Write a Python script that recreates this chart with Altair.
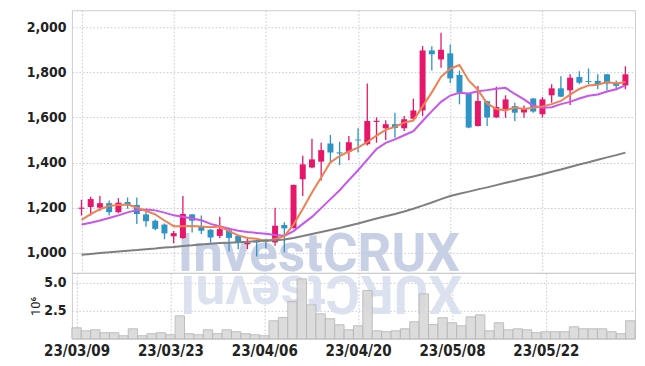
import altair as alt
import pandas as pd

dates = ["23/03/09", "23/03/10", "23/03/13", "23/03/14", "23/03/15", "23/03/16", "23/03/17",
         "23/03/20", "23/03/21", "23/03/22", "23/03/23", "23/03/24", "23/03/27", "23/03/28",
         "23/03/29", "23/03/30", "23/03/31", "23/04/03", "23/04/04", "23/04/05", "23/04/06",
         "23/04/07", "23/04/10", "23/04/11", "23/04/12", "23/04/13", "23/04/14", "23/04/17",
         "23/04/18", "23/04/19", "23/04/20", "23/04/21", "23/04/24", "23/04/25", "23/04/26",
         "23/04/27", "23/04/28", "23/05/02", "23/05/03", "23/05/04", "23/05/08", "23/05/09",
         "23/05/10", "23/05/11", "23/05/12", "23/05/15", "23/05/16", "23/05/17", "23/05/18",
         "23/05/19", "23/05/22", "23/05/23", "23/05/24", "23/05/25", "23/05/26", "23/05/30",
         "23/05/31", "23/06/01", "23/06/02", "23/06/05"]

opens = [1195, 1203, 1200, 1220, 1180, 1225, 1212, 1170, 1142, 1125,
         1073, 1065, 1170, 1115, 1102, 1075, 1100, 1075, 1038, 1055,
         1058, 1046, 1123, 1109, 1326, 1378, 1404, 1484, 1445, 1448,
         1502, 1481, 1580, 1552, 1570, 1552, 1594, 1631, 1897, 1857,
         1884, 1788, 1705, 1562, 1672, 1600, 1636, 1650, 1622, 1684,
         1614, 1698, 1729, 1720, 1779, 1761, 1762, 1791, 1754, 1742]
highs = [1235, 1248, 1252, 1232, 1242, 1245, 1245, 1182, 1148, 1130,
         1097, 1252, 1172, 1165, 1105, 1160, 1112, 1080, 1063, 1057,
         1060, 1200, 1135, 1302, 1430, 1506, 1488, 1522, 1492, 1518,
         1552, 1750, 1600, 1588, 1621, 1606, 1683, 1916, 1916, 1975,
         1923, 1808, 1706, 1739, 1674, 1736, 1698, 1665, 1653, 1685,
         1690, 1747, 1783, 1791, 1805, 1817, 1791, 1792, 1764, 1827]
lows = [1165, 1165, 1186, 1165, 1175, 1195, 1128, 1115, 1100, 1060,
        1042, 1062, 1090, 1083, 1046, 1065, 1006, 1016, 1016, 983,
        1020, 1031, 1002, 1108, 1252, 1375, 1320, 1400, 1388, 1410,
        1445, 1476, 1488, 1500, 1510, 1540, 1592, 1606, 1808, 1820,
        1753, 1658, 1552, 1560, 1562, 1598, 1598, 1584, 1599, 1621,
        1599, 1665, 1690, 1655, 1747, 1747, 1725, 1720, 1720, 1725]
closes = [1200, 1238, 1220, 1180, 1222, 1212, 1172, 1140, 1106, 1086,
          1087, 1172, 1142, 1098, 1068, 1105, 1066, 1046, 1045, 1046,
          1050, 1120, 1108, 1301, 1392, 1414, 1455, 1445, 1440, 1490,
          1498, 1584, 1585, 1570, 1553, 1592, 1631, 1897, 1880, 1900,
          1773, 1710, 1555, 1673, 1600, 1646, 1680, 1621, 1640, 1626,
          1680, 1729, 1692, 1776, 1754, 1757, 1748, 1750, 1740, 1791]
volumes = [0.98, 0.71, 0.80, 0.54, 0.54, 0.27, 0.89, 0.27, 0.45, 0.54,
           0.36, 2.05, 0.45, 0.36, 0.80, 0.45, 0.80, 0.63, 0.45, 0.36,
           0.27, 1.61, 1.90, 3.33, 5.36, 3.04, 2.23, 1.79, 1.25, 0.80,
           1.16, 4.31, 0.71, 0.63, 0.71, 0.89, 1.52, 4.02, 1.28, 1.88,
           1.43, 1.16, 1.96, 2.14, 0.71, 1.43, 0.80, 0.89, 0.80, 0.54,
           0.63, 0.63, 0.63, 1.07, 0.89, 0.89, 0.89, 0.63, 0.45, 1.61]
ma5 = [1146, 1171, 1193, 1208, 1212, 1214, 1201, 1185, 1170, 1143,
       1118, 1118, 1119, 1117, 1113, 1117, 1096, 1077, 1066, 1062,
       1051, 1061, 1074, 1125, 1194, 1267, 1334, 1401, 1429, 1449,
       1466, 1491, 1519, 1545, 1558, 1577, 1586, 1649, 1711, 1780,
       1816, 1832, 1764, 1722, 1662, 1637, 1631, 1644, 1637, 1643,
       1649, 1659, 1673, 1701, 1726, 1742, 1745, 1757, 1750, 1757]
ma10 = [1125, 1133, 1143, 1154, 1166, 1179, 1189, 1192, 1188, 1178,
        1166, 1160, 1152, 1144, 1128, 1118, 1107, 1098, 1092, 1088,
        1084, 1079, 1075, 1096, 1128, 1159, 1198, 1238, 1277, 1322,
        1366, 1413, 1460, 1487, 1503, 1521, 1539, 1584, 1628, 1669,
        1697, 1709, 1706, 1716, 1721, 1727, 1731, 1704, 1680, 1652,
        1643, 1645, 1659, 1669, 1684, 1696, 1702, 1715, 1725, 1742]
ma60 = [991, 995, 999, 1002, 1006, 1009, 1012, 1016, 1019, 1023,
        1026, 1030, 1033, 1037, 1040, 1043, 1045, 1047, 1049, 1051,
        1054, 1056, 1059, 1066, 1074, 1083, 1092, 1101, 1110, 1120,
        1130, 1141, 1152, 1162, 1172, 1183, 1195, 1209, 1223, 1238,
        1252, 1262, 1271, 1281, 1290, 1300, 1310, 1319, 1329, 1338,
        1348, 1359, 1369, 1380, 1391, 1401, 1412, 1423, 1433, 1444]

price_ticks = [1000, 1200, 1400, 1600, 1800, 2000]
vol_ticks = [2.5, 5.0]
date_tick_index = [0, 10, 20, 30, 40, 50]
watermark = "InvestCRUX"

df = pd.DataFrame({
    "i": list(range(len(dates))), "date": dates, "open": opens, "high": highs,
    "low": lows, "close": closes, "vol": volumes,
    "ma5": ma5, "ma10": ma10, "ma60": ma60,
})
df["dir"] = ["up" if c >= o else "down" for o, c in zip(opens, closes)]
df["lo"] = df["i"] - 0.5
df["hi"] = df["i"] + 0.5

RED = "#e6176a"
BLUE = "#2e93c5"
GRID = "#c3c7dc"
FONT = "Liberation Sans Narrow, DejaVu Sans Condensed, Roboto"
TXT = "#222222"

label_expr = "[" + ",".join("'" + d + "'" for d in dates) + "][datum.value]"
xscale = alt.Scale(domain=[-0.5, len(dates) - 0.5], nice=False, zero=False)

x_price = alt.X("i:Q", scale=xscale,
                axis=alt.Axis(values=date_tick_index, labels=False, ticks=False, domain=False,
                              title=None, grid=True, gridColor=GRID, gridDash=[1.5, 2],
                              minExtent=0, maxExtent=0, labelPadding=0))
yscale = alt.Scale(domain=[911, 2075], nice=False, zero=False)
y_axis = alt.Axis(values=price_ticks, format=",.0f", title=None, ticks=False, domain=False,
                  labelPadding=6, labelFont=FONT, labelFontSize=14, labelColor=TXT,
                  labelFontWeight="bold", grid=True, gridColor=GRID, gridDash=[1.5, 2],
                  minExtent=66)
color = alt.Color("dir:N", scale=alt.Scale(domain=["up", "down"], range=[RED, BLUE]), legend=None)

base = alt.Chart(df)

wm = alt.Chart(pd.DataFrame({"t": [watermark]})).mark_text(
    align="left", baseline="alphabetic", font="Roboto", fontWeight="bold",
    fontSize=53, color="#c3cbe4", opacity=0.9
).encode(text="t:N", x=alt.value(106), y=alt.value(261))

wicks = base.mark_rule(strokeWidth=1.3).encode(
    x=x_price, y=alt.Y("low:Q", scale=yscale, axis=y_axis), y2="high:Q", color=color)
bodies = base.mark_bar(size=6).encode(x="i:Q", y="open:Q", y2="close:Q", color=color)
l5 = base.mark_line(color="#ef8050", strokeWidth=2).encode(x="i:Q", y="ma5:Q")
l10 = base.mark_line(color="#c955ec", strokeWidth=2).encode(x="i:Q", y="ma10:Q")
l60 = base.mark_line(color="#7f7f7f", strokeWidth=2).encode(x="i:Q", y="ma60:Q")

price = alt.layer(wm, wicks, bodies, l10, l5, l60).properties(width=564, height=263)

wm2 = alt.Chart(pd.DataFrame({"t": [watermark[::-1]]})).mark_text(
    align="left", baseline="alphabetic", font="Roboto", fontWeight="bold",
    fontSize=53, color="#d9deee", opacity=0.9, angle=180
).encode(text="t:N", x=alt.value(391), y=alt.value(3))

bars = base.mark_bar(color="#d9d9d9", stroke="#b8b8b8", strokeWidth=1, opacity=0.9).encode(
    x=alt.X("lo:Q", scale=xscale,
            axis=alt.Axis(values=date_tick_index, labelExpr=label_expr, ticks=False, domain=False,
                          title=None, labelFont=FONT, labelFontSize=15, labelFontWeight="bold",
                          labelColor=TXT, labelPadding=5, grid=True, gridColor=GRID,
                          gridDash=[1.5, 2])),
    x2="hi:Q",
    y=alt.Y("vol:Q", scale=alt.Scale(domain=[0, 5.9], nice=False),
            axis=alt.Axis(values=vol_ticks, format=".1f", title="10⁶", ticks=False, domain=False,
                          labelPadding=6, labelFont=FONT, labelFontSize=14, labelColor=TXT,
                          labelFontWeight="bold", titleFont="Roboto", titleFontSize=13,
                          titleFontWeight="normal", titleColor=TXT, titlePadding=1,
                          grid=True, gridColor=GRID, gridDash=[1.5, 2])),
    y2=alt.datum(0),
)
volume = alt.layer(wm2, bars).properties(width=564, height=66)

chart = alt.vconcat(price, volume, spacing=0, bounds="flush").properties(
    padding={"left": 5, "top": 9, "right": 9, "bottom": 5},
    background="white",
).configure_view(stroke="#cccccc", strokeWidth=1)

chart.save("out.html", embed_options={"renderer": "svg", "actions": False})
